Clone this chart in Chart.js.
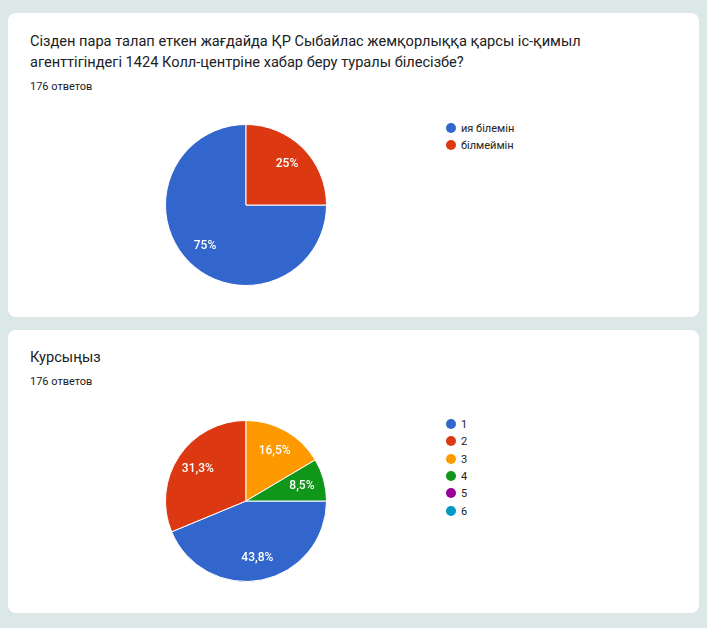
<!DOCTYPE html>
<html>
<head>
<meta charset="utf-8">
<script src="https://cdn.jsdelivr.net/npm/chart.js@4.4.1/dist/chart.umd.min.js"></script>
<style>
  html, body { margin: 0; padding: 0; }
  body { width: 707px; height: 628px; background: #dce8e8; position: relative; overflow: hidden;
         font-family: Roboto, "Noto Sans", Arial, sans-serif; color: #202124; }
  .card { position: absolute; left: 8px; width: 691px; background: #fff; border-radius: 8px; }
  .title { position: absolute; left: 30px; font-size: 14.6px; line-height: 21px; color: #202124; white-space: nowrap; }
  .count { position: absolute; left: 30px; font-size: 11px; line-height: 14px; color: #202124; }
  .pie { position: absolute; }
  .legend { position: absolute; left: 446px; font-size: 11px; color: #222; }
  .legend div { position: absolute; left: 0; height: 14px; line-height: 14px; white-space: nowrap; }
  .legend span { display: inline-block; width: 10px; height: 10px; border-radius: 50%; vertical-align: -1px; margin-right: 5px; }
</style>
</head>
<body>
<div class="card" style="top:13px;height:304px"></div>
<div class="card" style="top:330px;height:283px"></div>

<div class="title" style="top:31px">Сізден пара талап еткен жағдайда ҚР Сыбайлас жемқорлыққа қарсы іс-қимыл<br>агенттігіндегі 1424 Колл-центріне хабар беру туралы білесізбе?</div>
<div class="count" style="top:80px">176 ответов</div>
<canvas id="pie1" class="pie" width="170" height="170" style="left:161px;top:120px"></canvas>
<div id="legend1" class="legend" style="top:122px"></div>

<div class="title" style="top:347px">Курсыңыз</div>
<div class="count" style="top:375px">176 ответов</div>
<canvas id="pie2" class="pie" width="170" height="170" style="left:161px;top:416px"></canvas>
<div id="legend2" class="legend" style="top:418px"></div>

<script>
// question 1: "do you know about the 1424 call-centre"
const labels1 = ['ия білемін', 'білмеймін'];
const values1 = [132, 44];

// question 2: course of study
const labels2 = ['1', '2', '3', '4', '5', '6'];
const values2 = [77, 55, 29, 15, 0, 0];

const colors = ['#3366cc', '#dc3912', '#ff9900', '#109618', '#990099', '#0099c6'];

function pctText(v, total) {
    let s = (v / total * 100).toFixed(1);
    if (s.endsWith('.0')) s = s.slice(0, -2);
    return s.replace('.', ',') + '%';
}

// draws the percentage inside each slice
const sliceLabels = {
    id: 'sliceLabels',
    afterDatasetsDraw(chart) {
        const ctx = chart.ctx;
        const data = chart.data.datasets[0].data;
        const total = data.reduce((a, b) => a + b, 0);
        const meta = chart.getDatasetMeta(0);
        ctx.save();
        ctx.fillStyle = '#fff';
        ctx.font = '500 12px Roboto';
        ctx.textAlign = 'center';
        ctx.textBaseline = 'middle';
        meta.data.forEach((arc, i) => {
            if (!data[i]) return;
            const p = arc.getProps(['x', 'y', 'startAngle', 'endAngle', 'outerRadius'], true);
            const mid = (p.startAngle + p.endAngle) / 2;
            const r = p.outerRadius * 0.72;
            ctx.fillText(pctText(data[i], total), p.x + Math.cos(mid) * r, p.y + Math.sin(mid) * r);
        });
        ctx.restore();
    }
};

function makePie(id, labels, values) {
    const ctx = document.getElementById(id).getContext('2d');
    return new Chart(ctx, {
        type: 'pie',
        data: {
            labels: labels,
            datasets: [{
                data: values,
                backgroundColor: colors.slice(0, labels.length),
                borderColor: '#ffffff',
                borderWidth: 1
            }]
        },
        options: {
            responsive: false,
            animation: false,
            rotation: 90,
            layout: { padding: 4 },
            plugins: {
                legend: { display: false },
                tooltip: { enabled: false }
            }
        },
        plugins: [sliceLabels]
    });
}

function makeLegend(id, labels) {
    const box = document.getElementById(id);
    labels.forEach((lab, i) => {
        const row = document.createElement('div');
        row.style.top = (i * 17.3) + 'px';
        row.innerHTML = '<span style="background:' + colors[i] + '"></span>' + lab;
        box.appendChild(row);
    });
}

makePie('pie1', labels1, values1);
makePie('pie2', labels2, values2);
makeLegend('legend1', labels1);
makeLegend('legend2', labels2);
</script>
</body>
</html>
